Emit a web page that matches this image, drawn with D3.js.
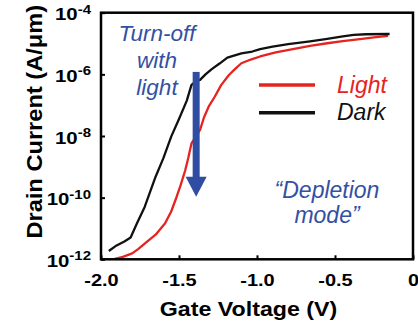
<!DOCTYPE html>
<html>
<head>
<meta charset="utf-8">
<script src="https://cdn.jsdelivr.net/npm/d3@7/dist/d3.min.js"></script>
<style>
  html, body { margin: 0; padding: 0; background: #fff; }
  svg { display: block; }
  text { font-family: "Liberation Sans", Arial, sans-serif; }
</style>
</head>
<body>
<svg id="chart" width="418" height="326"></svg>
<script>
// Gate sweep (V) and drain current (A/µm) for the dark measurement
const darkVoltage = [-1.95, -1.90, -1.85, -1.81, -1.77, -1.72, -1.65, -1.60, -1.55, -1.50,
  -1.45, -1.42, -1.39, -1.365, -1.33, -1.29, -1.24, -1.19, -1.10, -1.03,
  -0.98, -0.90, -0.80, -0.66, -0.55, -0.45, -0.38, -0.30, -0.15];
const darkCurrent = [1.86e-12, 2.82e-12, 3.80e-12, 5.13e-12, 1.45e-11, 5.01e-11, 4.79e-10, 1.91e-9, 9.55e-9, 3.55e-8,
  1.41e-7, 4.57e-7, 6.03e-7, 6.61e-7, 1.00e-6, 1.48e-6, 2.24e-6, 3.47e-6, 4.79e-6, 5.50e-6,
  6.61e-6, 7.94e-6, 9.55e-6, 1.17e-5, 1.41e-5, 1.70e-5, 1.91e-5, 2.00e-5, 2.04e-5];

// Same sweep under illumination
const lightVoltage = [-1.93, -1.86, -1.80, -1.76, -1.72, -1.65, -1.59, -1.55, -1.515, -1.49,
  -1.46, -1.44, -1.42, -1.39, -1.365, -1.34, -1.31, -1.27, -1.23, -1.18,
  -1.14, -1.10, -1.04, -0.98, -0.88, -0.77, -0.66, -0.55, -0.45, -0.34,
  -0.25, -0.16];
const lightCurrent = [9.77e-13, 1.20e-12, 1.55e-12, 2.19e-12, 3.24e-12, 6.31e-12, 1.45e-11, 3.55e-11, 1.07e-10, 2.51e-10,
  7.76e-10, 2.00e-9, 5.75e-9, 1.00e-8, 1.58e-8, 3.98e-8, 8.91e-8, 1.91e-7, 4.47e-7, 9.55e-7,
  1.51e-6, 2.29e-6, 3.02e-6, 3.80e-6, 5.13e-6, 6.61e-6, 8.32e-6, 1.02e-5, 1.20e-5, 1.38e-5,
  1.58e-5, 1.78e-5];

// Axis ticks
const xTicks = [-2.0, -1.5, -1.0, -0.5, 0];
const xTickLabels = ["-2.0", "-1.5", "-1.0", "-0.5", "0"];
const yTicks = [1e-4, 1e-6, 1e-8, 1e-10, 1e-12];
const yTickExponents = ["-4", "-6", "-8", "-10", "-12"];

// Legend entries and annotation text
const seriesNames = ["Light", "Dark"];
const turnOffLines = ["Turn-off", "with", "light"];
const depletionLines = ["\u201CDepletion", "mode\u201D"];

// Light-induced turn-off arrow (gate voltage, start current, tip current)
const arrowVoltage = -1.39;
const arrowFrom = 1.2e-6;
const arrowTo = 1.07e-10;

const RED = "#e52421";
const BLACK = "#111111";
const BLUE = "#3350a3";

const svg = d3.select("#chart");
const plotL = 101, plotR = 413, plotT = 12.7, plotB = 259.3;

const x = d3.scaleLinear().domain([-2, 0]).range([plotL, plotR]);
const y = d3.scaleLog().domain([1e-12, 1e-4]).range([plotB, plotT]);

svg.append("defs").append("clipPath").attr("id", "plot-clip")
  .append("rect").attr("x", plotL).attr("y", plotT)
  .attr("width", plotR - plotL).attr("height", plotB - plotT);

// Curves
const line = d3.line().x(d => x(d[0])).y(d => y(d[1]));
const darkPts = darkVoltage.map((v, i) => [v, darkCurrent[i]]);
const lightPts = lightVoltage.map((v, i) => [v, lightCurrent[i]]);

const curves = svg.append("g").attr("clip-path", "url(#plot-clip)");
curves.append("path").datum(lightPts).attr("d", line)
  .attr("fill", "none").attr("stroke", RED).attr("stroke-width", 2.3)
  .attr("stroke-linejoin", "round");
curves.append("path").datum(darkPts).attr("d", line)
  .attr("fill", "none").attr("stroke", BLACK).attr("stroke-width", 2.3)
  .attr("stroke-linejoin", "round");

// Arrow
const ax = x(arrowVoltage);
const headH = 20, headW = 21, shaftW = 7;
const ay0 = y(arrowFrom), ay1 = y(arrowTo);
svg.append("rect")
  .attr("x", ax - shaftW / 2).attr("y", ay0)
  .attr("width", shaftW).attr("height", ay1 - headH - ay0 + 1)
  .attr("fill", "#2f4da2");
svg.append("path")
  .attr("d", `M${ax - headW / 2},${ay1 - headH} L${ax + headW / 2},${ay1 - headH} L${ax},${ay1} Z`)
  .attr("fill", "#2f4da2");

// Bottom axis (inward ticks)
const xAxis = svg.append("g").attr("transform", `translate(0,${plotB})`)
  .call(d3.axisBottom(x).tickValues(xTicks).tickSize(-4).tickFormat((d, i) => xTickLabels[i]));
xAxis.select(".domain").remove();
xAxis.selectAll(".tick line").attr("stroke", "#000").attr("stroke-width", 2);
xAxis.selectAll(".tick text")
  .attr("y", 27).attr("dy", null)
  .attr("transform", "scale(1.21,1)")
  .attr("fill", "#000")
  .style("font-family", "'Liberation Sans', Arial, sans-serif")
  .style("font-weight", "bold").style("font-size", "16.5px");

// Left axis (inward ticks, 10^n labels)
const yAxis = svg.append("g").attr("transform", `translate(${plotL},0)`)
  .call(d3.axisLeft(y).tickValues(yTicks).tickSize(-4).tickFormat(""));
yAxis.select(".domain").remove();
yAxis.selectAll(".tick line").attr("stroke", "#000").attr("stroke-width", 2);
yAxis.selectAll(".tick text").each(function (d, i) {
  const t = d3.select(this);
  t.text(null)
    .attr("x", -10 / 1.2).attr("y", 7).attr("dy", null)
    .attr("transform", "scale(1.2,1)")
    .attr("text-anchor", "end").attr("fill", "#000")
    .style("font-family", "'Liberation Sans', Arial, sans-serif")
    .style("font-weight", "bold");
  t.append("tspan").style("font-size", "17px").text("10");
  t.append("tspan").attr("dy", -6.5).style("font-size", "12.5px").text(yTickExponents[i]);
});

// Frame
svg.append("rect").attr("x", plotL).attr("y", plotT)
  .attr("width", plotR - plotL).attr("height", plotB - plotT)
  .attr("fill", "none").attr("stroke", "#000").attr("stroke-width", 2.5);

// Axis titles
svg.append("text")
  .attr("transform", "translate(248.5,316) scale(1.19,1)")
  .attr("text-anchor", "middle").attr("font-weight", "bold")
  .attr("font-size", "19.5px").attr("fill", "#000")
  .text("Gate Voltage (V)");
svg.append("text")
  .attr("transform", "translate(41.5,121.7) rotate(-90) scale(1.1,1)")
  .attr("text-anchor", "middle").attr("font-weight", "bold")
  .attr("font-size", "21.5px").attr("fill", "#000")
  .text("Drain Current (A/\u03BCm)");

// Legend
const legendColors = [RED, BLACK];
const legendY = [85, 112.7];
seriesNames.forEach((name, i) => {
  svg.append("line")
    .attr("x1", 259).attr("x2", 315).attr("y1", legendY[i]).attr("y2", legendY[i])
    .attr("stroke", legendColors[i]).attr("stroke-width", 3.5);
  svg.append("text")
    .attr("x", 337).attr("y", legendY[i] + 7.5)
    .attr("font-style", "italic").attr("font-size", "23px")
    .attr("fill", legendColors[i]).text(name);
});

// Annotations
svg.append("text").attr("text-anchor", "middle")
  .attr("font-style", "italic").attr("font-size", "22.5px").attr("fill", BLUE)
  .selectAll("tspan").data(turnOffLines).join("tspan")
  .attr("x", 157).attr("y", (d, i) => 41 + i * 27).text(d => d);

svg.append("text").attr("text-anchor", "middle")
  .attr("font-style", "italic").attr("font-size", "23px").attr("fill", BLUE)
  .selectAll("tspan").data(depletionLines).join("tspan")
  .attr("x", 327).attr("y", (d, i) => 198.3 + i * 25).text(d => d);
</script>
</body>
</html>
